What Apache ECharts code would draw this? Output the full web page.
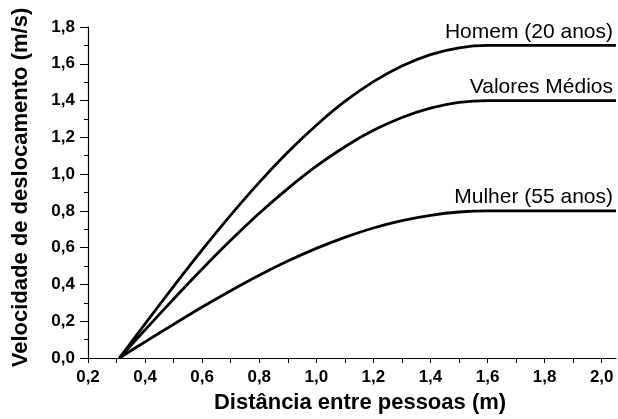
<!DOCTYPE html>
<html>
<head>
<meta charset="utf-8">
<script src="https://cdn.jsdelivr.net/npm/echarts@6/dist/echarts.min.js"></script>
<style>
html,body{margin:0;padding:0;background:#fff;}
#chart{width:618px;height:419px;}
</style>
</head>
<body>
<div id="chart"></div>
<script>
const distances = [0.31, 0.4, 0.5, 0.6, 0.7, 0.8, 0.9, 1.0, 1.1, 1.2, 1.3, 1.4, 1.5, 1.6, 1.7, 1.8, 1.9, 2.0, 2.05];
const homem   = [0, 0.186, 0.39, 0.588, 0.777, 0.955, 1.119, 1.266, 1.395, 1.503, 1.588, 1.650, 1.687, 1.70, 1.70, 1.70, 1.70, 1.70, 1.70];
const medios  = [0, 0.153, 0.321, 0.484, 0.640, 0.787, 0.921, 1.043, 1.149, 1.238, 1.308, 1.359, 1.390, 1.40, 1.40, 1.40, 1.40, 1.40, 1.40];
const mulher  = [0, 0.088, 0.183, 0.277, 0.366, 0.450, 0.527, 0.596, 0.656, 0.707, 0.747, 0.776, 0.794, 0.80, 0.80, 0.80, 0.80, 0.80, 0.80];
const seriesNames = ['Homem (20 anos)', 'Valores Médios', 'Mulher (55 anos)'];
const xTitle = 'Distância entre pessoas (m)';
const yTitle = 'Velocidade de deslocamento (m/s)';

const FONT = '"Liberation Sans", Arial, sans-serif';
const fmt = v => v.toFixed(1).replace('.', ',');

function mk(name, vals) {
  const last = vals.length - 1;
  return {
    name: name,
    type: 'line',
    data: distances.map((d, i) => [d, vals[i]]),
    smooth: 0.3,
    showSymbol: false,
    symbol: 'none',
    lineStyle: { color: '#000', width: 2.8 },
    markPoint: {
      symbol: 'circle',
      symbolSize: 0,
      silent: true,
      data: [{ coord: [distances[last], vals[last]], value: name }],
      label: {
        show: true,
        position: 'top',
        align: 'right',
        verticalAlign: 'bottom',
        distance: 3,
        offset: [-3, 0],
        fontFamily: FONT,
        fontSize: 21,
        color: '#000',
        formatter: () => name
      }
    },
    emphasis: { disabled: true },
    animation: false
  };
}

const chart = echarts.init(document.getElementById('chart'), null, { renderer: 'canvas' });
chart.setOption({
  backgroundColor: '#fff',
  animation: false,
  grid: { left: 88, right: 2, top: 27, bottom: 60, containLabel: false },
  xAxis: {
    type: 'value',
    min: 0.2, max: 2.05, interval: 0.1,
    name: xTitle, nameLocation: 'middle', nameGap: 34,
    nameTextStyle: { fontFamily: FONT, fontSize: 22, fontWeight: 'bold', color: '#000', padding: [0, 0, 0, 16] },
    axisLine: { show: true, lineStyle: { color: '#000', width: 1.2 } },
    axisTick: { show: true, length: 5, lineStyle: { color: '#000' } },
    axisLabel: {
      margin: 11, fontFamily: FONT, fontSize: 17, fontWeight: 'bold', color: '#000',
      formatter: v => (Math.round(v * 10) % 2 === 0 ? fmt(v) : ''),
      showMaxLabel: false
    },
    splitLine: { show: false }
  },
  yAxis: {
    type: 'value',
    min: 0, max: 1.8, interval: 0.2,
    name: yTitle, nameLocation: 'middle', nameGap: 56,
    nameTextStyle: { fontFamily: FONT, fontSize: 22, fontWeight: 'bold', color: '#000', padding: [0, 0, 0, 10] },
    axisLine: { show: true, lineStyle: { color: '#000', width: 1.2 } },
    axisTick: { show: true, length: 8, lineStyle: { color: '#000' } },
    minorTick: { show: true, splitNumber: 2, length: 4, lineStyle: { color: '#000' } },
    axisLabel: { margin: 13, fontFamily: FONT, fontSize: 17, fontWeight: 'bold', color: '#000', formatter: fmt },
    splitLine: { show: false }
  },
  series: [
    mk(seriesNames[0], homem),
    mk(seriesNames[1], medios),
    mk(seriesNames[2], mulher)
  ]
});
</script>
</body>
</html>
